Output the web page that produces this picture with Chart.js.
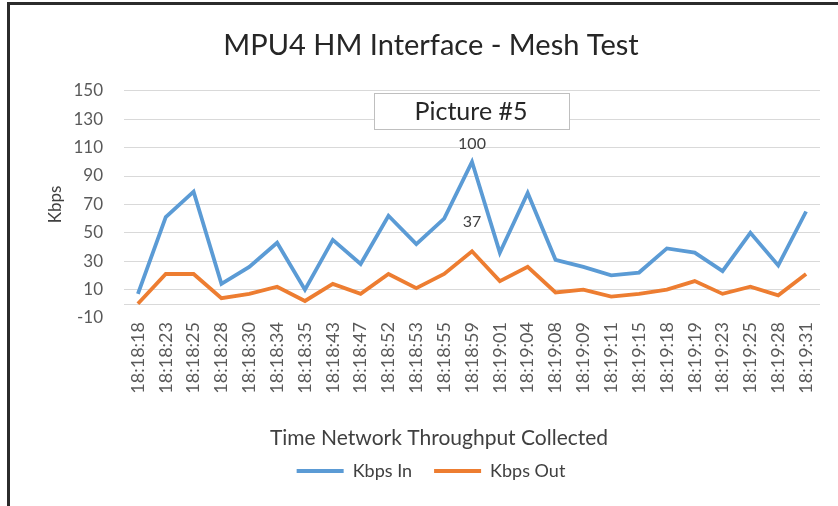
<!DOCTYPE html>
<html>
<head>
<meta charset="utf-8">
<script src="https://cdn.jsdelivr.net/npm/chart.js@4.4.1/dist/chart.umd.min.js"></script>
<style>
  body { margin: 0; background: #fff; }
  #frame {
    position: absolute; left: 7px; top: 2px; width: 840px; height: 510px;
    border-top: 3px solid #2b2b2b; border-left: 3px solid #2b2b2b;
  }
  #wrap { position: absolute; left: 0; top: 0; width: 838px; height: 506px; }
</style>
</head>
<body>
<div id="frame"></div>
<div id="wrap"><canvas id="chart" width="838" height="506"></canvas></div>
<script>
const timeLabels = ["18:18:18","18:18:23","18:18:25","18:18:28","18:18:30","18:18:34","18:18:35","18:18:43","18:18:47","18:18:52","18:18:53","18:18:55","18:18:59","18:19:01","18:19:04","18:19:08","18:19:09","18:19:11","18:19:15","18:19:18","18:19:19","18:19:23","18:19:25","18:19:28","18:19:31"];
const kbpsIn  = [7, 61, 79, 14, 26, 43, 10, 45, 28, 62, 42, 60, 100, 36, 78, 31, 26, 20, 22, 39, 36, 23, 50, 27, 65];
const kbpsOut = [0, 21, 21, 4, 7, 12, 2, 14, 7, 21, 11, 21, 37, 16, 26, 8, 10, 5, 7, 10, 16, 7, 12, 6, 21];
// only the peak point of each series carries a value label
const labelIndexIn = [12];
const labelIndexOut = [12];
const yTicks = [-10, 10, 30, 50, 70, 90, 110, 130, 150];
const xAxisTitle = 'Time Network Throughput Collected';

const fontName = "Lato, 'Open Sans', sans-serif";

// zero line (horizontal axis crosses at 0)
const zeroLine = {
    id: 'zeroLine',
    beforeDatasetsDraw(chart){
        const ctx = chart.ctx;
        const area = chart.chartArea;
        const y = chart.scales.y.getPixelForValue(0);
        ctx.save();
        ctx.strokeStyle = '#d9d9d9';
        ctx.lineWidth = 1;
        ctx.beginPath();
        ctx.moveTo(area.left, Math.round(y) + 0.5);
        ctx.lineTo(area.right, Math.round(y) + 0.5);
        ctx.stroke();
        ctx.restore();
    }
};

// value labels, the "Picture #5" text box and the x axis title
const extras = {
    id: 'extras',
    afterDatasetsDraw(chart){
        const ctx = chart.ctx;
        ctx.save();
        ctx.font = "16px " + fontName;
        ctx.fillStyle = '#404040';
        ctx.textAlign = 'center';
        ctx.textBaseline = 'bottom';
        [[0, labelIndexIn, 10], [1, labelIndexOut, 21]].forEach(function(item){
            const meta = chart.getDatasetMeta(item[0]);
            const data = chart.data.datasets[item[0]].data;
            item[1].forEach(function(i){
                const pt = meta.data[i];
                ctx.fillText(String(data[i]), pt.x, pt.y - item[2]);
            });
        });

        ctx.fillStyle = '#ffffff';
        ctx.strokeStyle = '#bfbfbf';
        ctx.lineWidth = 1;
        ctx.fillRect(374.5, 93.5, 195, 36);
        ctx.strokeRect(374.5, 93.5, 195, 36);
        ctx.fillStyle = '#262626';
        ctx.font = "25px " + fontName;
        ctx.textBaseline = 'middle';
        ctx.fillText('Picture #5', 471, 112);

        // axis title, Excel puts it a bit left of the plot centre
        const xs = chart.scales.x;
        ctx.fillStyle = '#404040';
        ctx.font = "21px " + fontName;
        ctx.fillText(xAxisTitle, 439, xs.bottom - 2);
        ctx.restore();
    }
};

const config = {
    type: 'line',
    data: {
        labels: timeLabels,
        datasets: [{
            label: 'Kbps In',
            data: kbpsIn,
            borderColor: '#5b9bd5',
            backgroundColor: '#5b9bd5',
            borderWidth: 3.8,
            pointRadius: 0,
            tension: 0
        },
        {
            label: 'Kbps Out',
            data: kbpsOut,
            borderColor: '#ed7d31',
            backgroundColor: '#ed7d31',
            borderWidth: 3.8,
            pointRadius: 0,
            tension: 0
        }]
    },
    options: {
        responsive: false,
        animation: false,
        layout: { padding: { left: 42, right: 18, top: 0, bottom: 16 } },
        plugins: {
            title: {
                display: true,
                text: 'MPU4 HM Interface - Mesh Test',
                color: '#262626',
                font: { family: fontName, size: 29, weight: 'normal' },
                padding: { top: 28, bottom: 28 }
            },
            legend: {
                position: 'bottom',
                labels: {
                    color: '#404040',
                    font: { family: fontName, size: 18 },
                    boxWidth: 47,
                    boxHeight: 4,
                    padding: 22,
                    generateLabels: function(chart){
                        return Chart.defaults.plugins.legend.labels.generateLabels(chart).map(function(l){
                            l.lineWidth = 0;
                            l.fillStyle = l.strokeStyle;
                            return l;
                        });
                    }
                }
            },
            tooltip: { enabled: false }
        },
        scales: {
            x: {
                offset: true,
                grid: { display: false, drawTicks: false },
                border: { display: false },
                ticks: {
                    color: '#595959',
                    font: { family: fontName, size: 18 },
                    minRotation: 90,
                    maxRotation: 90,
                    autoSkip: false,
                    padding: 4
                },
                afterFit: function(scale){ scale.height = 122; }
            },
            y: {
                min: -10,
                max: 150,
                grid: {
                    drawTicks: false,
                    color: function(c){ return c.tick && c.tick.value === -10 ? 'rgba(0,0,0,0)' : '#d9d9d9'; }
                },
                border: { display: false },
                afterBuildTicks: function(scale){
                    scale.ticks = yTicks.map(function(v){ return { value: v }; });
                },
                ticks: {
                    color: '#595959',
                    font: { family: fontName, size: 17 },
                    padding: 21
                },
                title: {
                    display: true,
                    text: 'Kbps',
                    color: '#404040',
                    font: { family: fontName, size: 17 },
                    padding: { top: 3, bottom: 0 }
                },
                afterFit: function(scale){ scale.width = 82; }
            }
        }
    },
    plugins: [zeroLine, extras]
};

const chart = new Chart(document.getElementById('chart'), config);
</script>
</body>
</html>
